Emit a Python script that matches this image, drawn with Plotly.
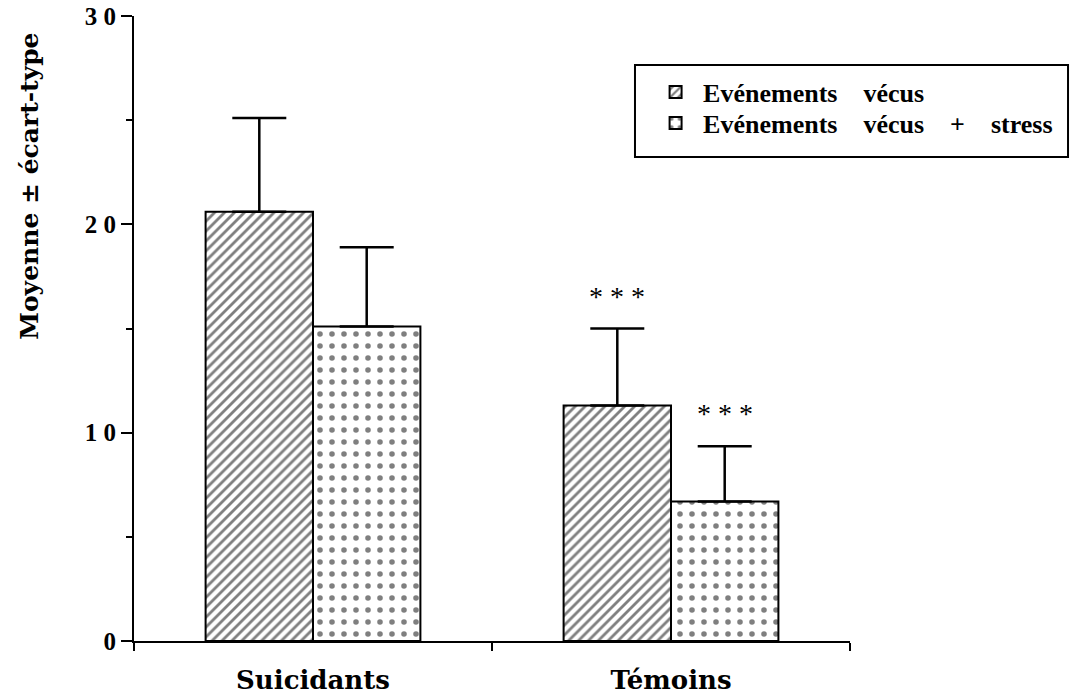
import plotly.graph_objects as go

categories = ["Suicidants", "Témoins"]
cat_pos = [0.5, 1.5]
series_names = ["Evénements    vécus", "Evénements    vécus    +    stress"]
means_vecus = [20.6, 11.3]
sd_vecus = [4.5, 3.7]
means_stress = [15.1, 6.7]
sd_stress = [3.8, 2.65]
star_text = ["", "* * *"]
y_ticks = [0, 10, 20, 30]
y_tick_text = ["0", "1 0", "2 0", "3 0"]
y_title = "Moyenne ± écart-type"

SERIF = "Liberation Serif"
WIDE = "DejaVu Serif"

def nb(s):
    return s.replace(" ", "\u00a0")

fig = go.Figure()
fig.add_trace(go.Bar(
    x=cat_pos, y=means_vecus, name="<b>%s</b>" % nb(series_names[0]), legend="legend",
    marker=dict(color="white", line=dict(color="black", width=2),
                pattern=dict(shape="/", fgcolor="black", bgcolor="white", size=7, solidity=0.4)),
    error_y=dict(type="data", symmetric=False, array=sd_vecus, arrayminus=[0, 0],
                 color="black", thickness=2.5, width=27),
))
fig.add_trace(go.Bar(
    x=cat_pos, y=means_stress, name="<b>%s</b>" % nb(series_names[1]), legend="legend2",
    marker=dict(color="white", line=dict(color="black", width=2),
                pattern=dict(shape=".", fgcolor="black", bgcolor="white", size=12, solidity=0.17)),
    error_y=dict(type="data", symmetric=False, array=sd_stress, arrayminus=[0, 0],
                 color="black", thickness=2.5, width=27),
))

# significance stars above Témoins bars
for i, c in enumerate(cat_pos):
    if star_text[i]:
        fig.add_annotation(x=c - 0.15, y=means_vecus[i] + sd_vecus[i], text=star_text[i],
                           showarrow=False, yanchor="bottom", yshift=15,
                           font=dict(family=SERIF, size=28, color="black"))
        fig.add_annotation(x=c + 0.15, y=means_stress[i] + sd_stress[i], text=star_text[i],
                           showarrow=False, yanchor="bottom", yshift=15,
                           font=dict(family=SERIF, size=28, color="black"))

# y-axis title placed near the top, as in the reference
fig.add_annotation(xref="paper", yref="paper", x=-0.147, y=0.728, text="<b>%s</b>" % y_title,
                   textangle=-90, showarrow=False, xanchor="center", yanchor="middle",
                   font=dict(family=WIDE, size=25, color="black"))

# legend frame
fig.add_shape(type="rect", xref="paper", yref="paper", x0=0.6997, x1=1.3045, y0=0.7744, y1=0.9216,
              line=dict(color="black", width=2), fillcolor="rgba(0,0,0,0)", layer="above")

leg_common = dict(xanchor="left", yanchor="middle", borderwidth=0, bgcolor="rgba(0,0,0,0)",
                  font=dict(family=SERIF, size=26, color="black"), itemwidth=45)

fig.update_layout(
    width=1074, height=698,
    margin=dict(l=134, r=224, t=16, b=57),
    paper_bgcolor="white", plot_bgcolor="white",
    barmode="group", bargap=0.4, bargroupgap=0,
    showlegend=True,
    legend=dict(x=0.718, y=0.8784, **leg_common),
    legend2=dict(x=0.718, y=0.8288, **leg_common),
    xaxis=dict(range=[0, 2], tickvals=cat_pos, ticktext=["<b>%s</b>" % c for c in categories],
               ticks="", showgrid=False, zeroline=False, automargin=False,
               showline=True, linecolor="black", linewidth=2,
               tickfont=dict(family=WIDE, size=26, color="black"),
               ticklabelstandoff=15,
               minor=dict(tick0=0, dtick=1, ticks="outside", ticklen=8, tickwidth=2, tickcolor="black", showgrid=False)),
    yaxis=dict(range=[0, 30], tickvals=y_ticks, ticktext=["<b>%s</b>" % t for t in y_tick_text],
               ticks="outside", ticklen=11, tickwidth=2, tickcolor="black",
               showgrid=False, zeroline=False, automargin=False, ticklabeloverflow="allow",
               showline=True, linecolor="black", linewidth=2,
               tickfont=dict(family=SERIF, size=25, color="black"),
               minor=dict(tick0=0, dtick=5, ticks="outside", ticklen=6, tickwidth=2, tickcolor="black", showgrid=False)),
)

fig.write_html("out.html", config={"displayModeBar": False},
               post_script="document.body.style.margin='0px';")
